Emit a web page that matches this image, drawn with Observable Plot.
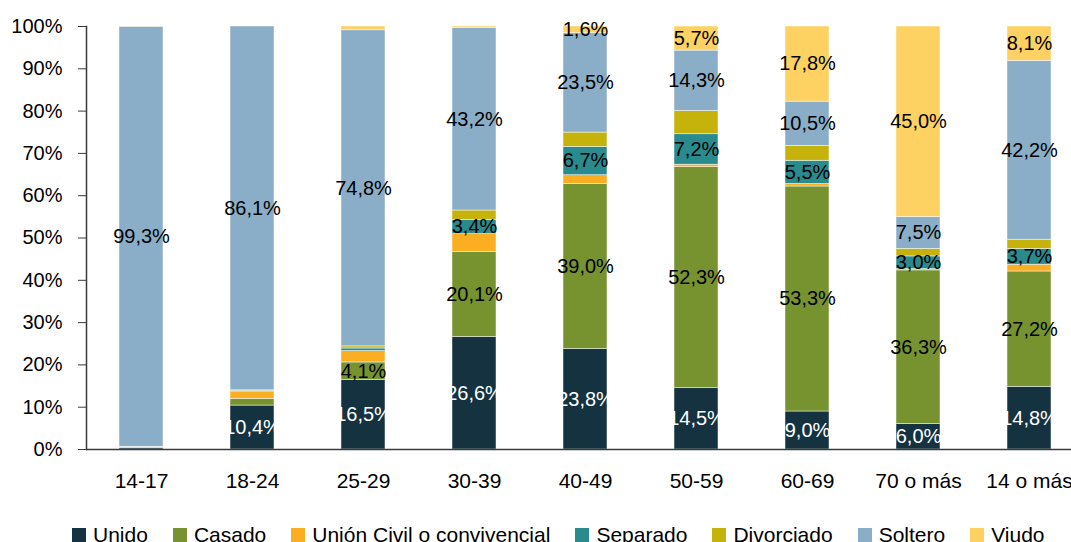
<!DOCTYPE html>
<html>
<head>
<meta charset="utf-8">
<script src="https://cdn.jsdelivr.net/npm/d3@7"></script>
<script src="https://cdn.jsdelivr.net/npm/@observablehq/plot@0.6"></script>
<style>
  html, body { margin: 0; padding: 0; background: #fff; }
  body { width: 1071px; height: 542px; overflow: hidden; position: relative; font-family: "Liberation Sans", Arial, sans-serif; }
  #chart svg { display: block; }
  #legend { position: absolute; left: 72px; top: 523px; display: flex; align-items: center; gap: 25px; font-size: 21px; line-height: 24px; color: #000; white-space: nowrap; }
  #legend .item { display: flex; align-items: center; }
  #legend .sw { width: 14px; height: 14px; margin-right: 7px; display: inline-block; }
</style>
</head>
<body>
<div id="chart"></div>
<div id="legend"></div>
<script>
const categories = ["14-17", "18-24", "25-29", "30-39", "40-49", "50-59", "60-69", "70 o más", "14 o más"];
const seriesNames = ["Unido", "Casado", "Unión Civil o convivencial", "Separado", "Divorciado", "Soltero", "Viudo"];
const seriesColors = ["#143240", "#77932F", "#FBAE22", "#2A8B8F", "#C5B30B", "#8AAEC7", "#FDD263"];

const unido      = [0.3, 10.4, 16.5, 26.6, 23.8, 14.5, 9.0, 6.0, 14.8];
const casado     = [0.2, 1.6, 4.1, 20.1, 39.0, 52.3, 53.3, 36.3, 27.2];
const unionCivil = [0.1, 1.6, 2.7, 4.2, 2.1, 0.6, 0.6, 0.3, 1.6];
const separado   = [0.05, 0.3, 0.6, 3.4, 6.7, 7.2, 5.5, 3.0, 3.7];
const divorciado = [0.0, 0.1, 0.5, 2.2, 3.4, 5.5, 3.5, 1.8, 2.2];
const soltero    = [99.3, 86.1, 74.8, 43.2, 23.5, 14.3, 10.5, 7.5, 42.2];
const viudo      = [0.05, 0.0, 0.9, 0.3, 1.6, 5.7, 17.8, 45.0, 8.1];

const yTicks = [0, 0.1, 0.2, 0.3, 0.4, 0.5, 0.6, 0.7, 0.8, 0.9, 1.0];

const seriesValues = [unido, casado, unionCivil, separado, divorciado, soltero, viudo];
const data = [];
categories.forEach((cat, i) => {
  seriesNames.forEach((s, j) => {
    data.push({cat, series: s, value: seriesValues[j][i]});
  });
});

const labeledSeries = new Set(["Unido", "Casado", "Separado", "Soltero", "Viudo"]);
const isLabeled = d => labeledSeries.has(d.series) && (d.value >= 3 || (d.series === "Viudo" && d.value >= 1.5));
const fmt = v => v.toFixed(1).replace(".", ",") + "%";

const font = "Liberation Sans, Arial, sans-serif";

const chart = Plot.plot({
  width: 1071,
  height: 500,
  marginTop: 26,
  marginBottom: 51,
  marginLeft: 86,
  marginRight: 0,
  style: {fontFamily: font, fontSize: "20px", color: "#000", background: "#fff", overflow: "hidden"},
  x: {domain: categories, range: [86, 1085], paddingInner: 0.6, paddingOuter: 0.3, axis: null},
  y: {domain: [0, 1], axis: null},
  color: {domain: seriesNames, range: seriesColors},
  marks: [
    Plot.barY(data, {x: "cat", y: "value", fill: "series", order: seriesNames, offset: "normalize", stroke: "#ffffff", strokeWidth: 0.6, strokeOpacity: 0.8}),
    Plot.text(data, Plot.stackY({x: "cat", y: "value", z: "series", order: seriesNames, offset: "normalize",
      text: d => (d.series === "Unido" && isLabeled(d)) ? fmt(d.value) : "", fill: "#ffffff", fontSize: 20})),
    Plot.text(data, Plot.stackY({x: "cat", y: "value", z: "series", order: seriesNames, offset: "normalize",
      text: d => (d.series !== "Unido" && isLabeled(d)) ? fmt(d.value) : "", fill: "#000000", fontSize: 20})),
    Plot.ruleY([0], {stroke: "#3a3a3a", strokeWidth: 1.5}),
    Plot.frame({anchor: "left", stroke: "#3a3a3a", strokeWidth: 1.5}),
    Plot.axisY({ticks: yTicks, tickFormat: d => Math.round(d * 100) + "%", tickSize: 8, tickPadding: 16, fontSize: 20, stroke: "#3a3a3a", label: null}),
    Plot.axisX({tickSize: 0, tickPadding: 24, fontSize: 21, label: null})
  ]
});
document.getElementById("chart").appendChild(chart);

const legend = document.getElementById("legend");
seriesNames.forEach((s, i) => {
  const item = document.createElement("span");
  item.className = "item";
  const sw = document.createElement("span");
  sw.className = "sw";
  sw.style.background = seriesColors[i];
  const t = document.createElement("span");
  t.textContent = s;
  item.appendChild(sw);
  item.appendChild(t);
  legend.appendChild(item);
});
</script>
</body>
</html>
